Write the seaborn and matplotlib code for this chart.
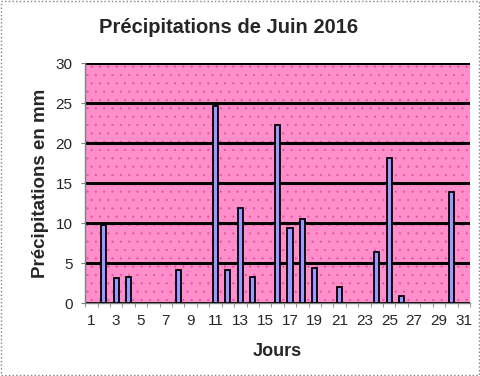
import matplotlib
matplotlib.use("Agg")
import matplotlib.pyplot as plt
import seaborn as sns
import pandas as pd
from matplotlib.patches import Rectangle

# Précipitations de juin 2016 (mm), jours avec pluie
jours = [2, 3, 4, 8, 11, 12, 13, 14, 16, 17, 18, 19, 21, 24, 25, 26, 30]
pluie = [9.8, 3.1, 3.3, 4.1, 24.6, 4.1, 11.9, 3.3, 22.3, 9.4, 10.5, 4.4, 2.0, 6.4, 18.2, 0.9, 13.9]
tous_jours = list(range(1, 32))
etiquettes = [str(j) for j in tous_jours[::2]]

df = pd.DataFrame({'Jour': jours, 'Pluie': pluie})

sns.set_style('white')
plt.rcParams['font.family'] = ['Liberation Sans', 'DejaVu Sans']
plt.rcParams['hatch.color'] = '#e0509e'
plt.rcParams['hatch.linewidth'] = 0.3

fig = plt.figure(figsize=(4.81, 3.76), dpi=100)
ax = fig.add_axes([0.177, 0.194, 0.800, 0.638])

ax.set_facecolor('#ff8ecb')
ax.patch.set_hatch('..')
ax.patch.set_edgecolor('#e0509e')

sns.barplot(x='Jour', y='Pluie', data=df, order=tous_jours, color='#9999ff',
            edgecolor='black', linewidth=1.3, width=0.42, saturation=1, ax=ax, zorder=3)

ax.set_ylim(0, 30)
ax.set_xlim(-0.5, 30.5)
ax.set_yticks(range(0, 31, 5))
ax.yaxis.grid(True, color='black', linewidth=2.2, zorder=1)
ax.set_axisbelow(True)

ax.set_xticks(range(0, 31, 2))
ax.set_xticklabels(etiquettes)
ax.set_xticks([i - 0.5 for i in range(32)], minor=True)
ax.tick_params(axis='x', which='major', length=0, labelsize=11, pad=8)
ax.tick_params(axis='x', which='minor', length=3, direction='out', color='gray', bottom=True)
ax.tick_params(axis='y', length=3, direction='out', color='gray', labelsize=11, left=True, pad=6)

for side in ['left', 'bottom']:
    ax.spines[side].set_color('gray')
    ax.spines[side].set_linewidth(1)
for side in ['top', 'right']:
    ax.spines[side].set_visible(False)

ax.set_xlabel('Jours', fontsize=13, fontweight='bold', labelpad=11)
ax.set_ylabel('Précipitations en mm', fontsize=13.5, fontweight='bold', labelpad=5)
fig.text(0.476, 0.928, 'Précipitations de Juin 2016', ha='center', va='center',
         fontsize=14.5, fontweight='bold')

fig.patches.append(Rectangle((0.002, 0.003), 0.994, 0.994, transform=fig.transFigure,
                             fill=False, edgecolor='gray', linestyle=':', linewidth=1))

fig.savefig('out.png', dpi=100)
